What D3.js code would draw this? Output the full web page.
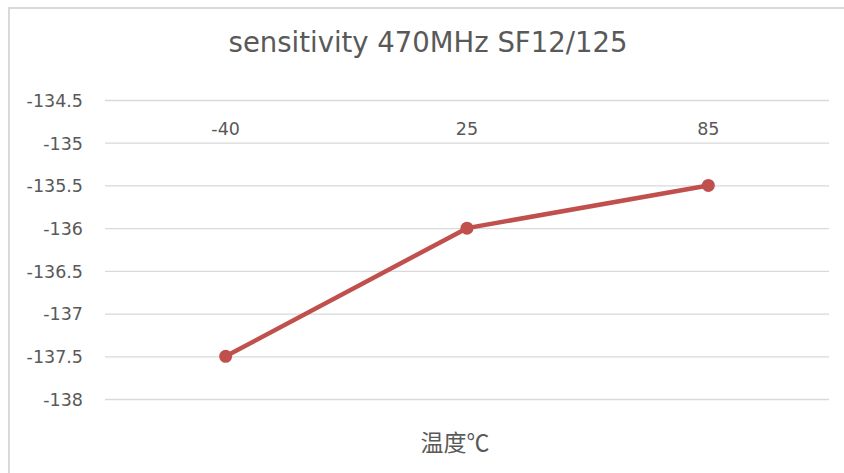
<!DOCTYPE html>
<html><head><meta charset="utf-8">
<script src="https://cdn.jsdelivr.net/npm/d3@7"></script>
<style>html,body{margin:0;padding:0;background:#fff;}svg{display:block;}</style>
</head><body>
<svg id="chart" width="844" height="473"></svg>
<script>
const title = "sensitivity 470MHz SF12/125";
const categories = ["-40", "25", "85"];
const values = [-137.5, -136, -135.5];
const yTicks = [-134.5, -135, -135.5, -136, -136.5, -137, -137.5, -138];
const xTitle = "温度℃";

const svg = d3.select("#chart");
const W = 844, H = 473;
const plot = {left: 105, right: 829, top: 100, bottom: 399};
const textColor = "#595959";
const font = "DejaVu Sans, sans-serif";

// border
svg.append("path").attr("d", `M9,${H} L9,8 L${W},8`).attr("fill","none")
  .attr("stroke","#d9d9d9").attr("stroke-width",2);

const x = d3.scaleBand().domain(categories).range([plot.left, plot.right]);
const y = d3.scaleLinear().domain([-138, -134.5]).range([plot.bottom, plot.top]);

// gridlines + value axis labels
const yAxis = d3.axisLeft(y).tickValues(yTicks).tickSize(-(plot.right-plot.left)).tickPadding(22)
  .tickFormat(d => String(d));
const gy = svg.append("g").attr("transform", `translate(${plot.left},0)`).call(yAxis);
gy.select(".domain").remove();
gy.selectAll(".tick line").attr("stroke","#d9d9d9").attr("stroke-width",1.3);
gy.selectAll(".tick text").attr("fill", textColor).attr("font-family", font).attr("font-size", 17.5)
  .attr("dy","0.36em");

// category axis labels (axis crosses at top)
const xAxis = d3.axisBottom(x).tickSize(0).tickPadding(23);
const gx = svg.append("g").attr("transform", `translate(0,${plot.top})`).call(xAxis);
gx.select(".domain").remove();
gx.selectAll(".tick text").attr("fill", textColor).attr("font-family", font).attr("font-size", 17.5);

// line
const pts = categories.map((c,i)=>({c, v: values[i]}));
const line = d3.line().x(d => x(d.c) + x.bandwidth()/2).y(d => y(d.v));
svg.append("path").datum(pts).attr("d", line).attr("fill","none")
  .attr("stroke","#c0504d").attr("stroke-width",4.5).attr("stroke-linejoin","round");
svg.selectAll("circle.pt").data(pts).enter().append("circle").attr("class","pt")
  .attr("cx", d => x(d.c) + x.bandwidth()/2).attr("cy", d => y(d.v)).attr("r", 6.5)
  .attr("fill","#c0504d");

// title
svg.append("text").attr("x", 428).attr("y", 52).attr("text-anchor","middle")
  .attr("fill", textColor).attr("font-family", font).attr("font-size", 27.5).text(title);

// x title
svg.append("text").attr("x", 455).attr("y", 451).attr("text-anchor","middle")
  .attr("fill", textColor).attr("font-family", "Noto Sans CJK SC, sans-serif").attr("font-size", 23).text(xTitle);
</script>
</body></html>
